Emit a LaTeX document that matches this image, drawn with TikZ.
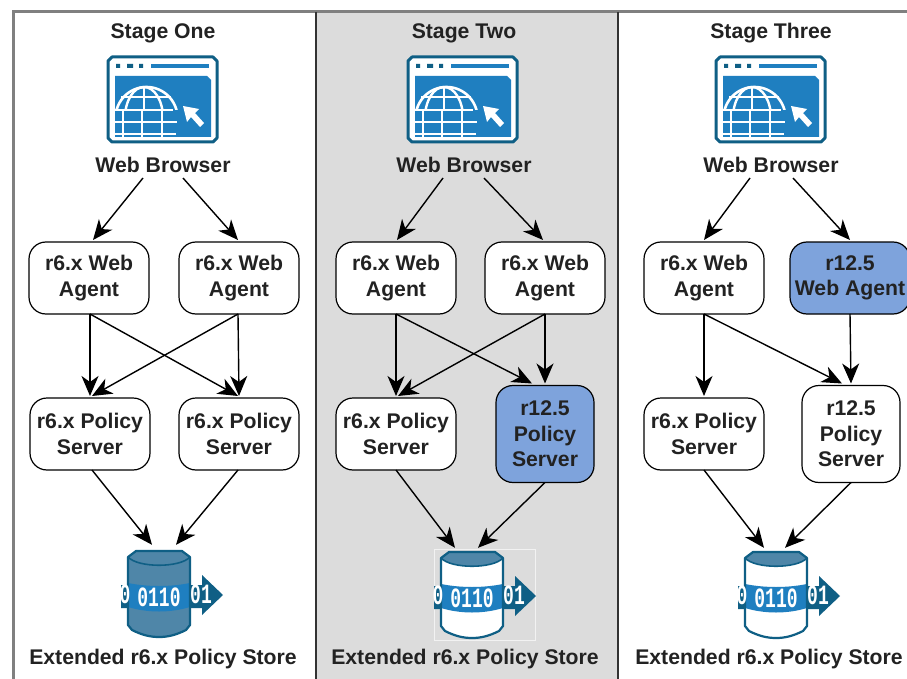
\documentclass[tikz,border=0pt]{standalone}
\usepackage{fontspec}
\setmainfont{Liberation Sans}
\newfontfamily\digitfont{Liberation Mono}
\usetikzlibrary{arrows.meta,calc}
\definecolor{teal}{HTML}{0F5F85}
\definecolor{iconblue}{HTML}{1F7FC0}
\definecolor{storefill}{HTML}{4F86A8}
\definecolor{nodeblue}{HTML}{7EA3DC}
\definecolor{panelgrey}{HTML}{DCDCDC}
\definecolor{inktext}{HTML}{222222}
\tikzset{
  x=1pt,y=-1pt,
  lbl/.style={font=\fontsize{21.2}{25}\selectfont\bfseries,text=inktext,inner sep=0pt,outer sep=0pt,text height=15pt,text depth=5pt},
  boxtxt/.style={draw=black,line width=1.2pt,fill=white,rounded corners=17pt,align=center,inner sep=0pt,outer sep=0pt,
     font=\fontsize{21.2}{25.5}\selectfont\bfseries,text=inktext},
  wide/.style={boxtxt,minimum width=120pt,minimum height=72pt},
  tall/.style={boxtxt,minimum width=98pt,minimum height=97pt},
  blue/.style={fill=nodeblue},
  arr/.style={draw=black,line width=1.4pt,-{Stealth[length=20pt,width=17pt,inset=6pt]}},
  digits/.style={text=white,inner sep=0pt,font=\digitfont\fontsize{18}{18}\selectfont\bfseries,yscale=1.55,transform shape},
}
% browser icon: top-left corner of rim
\newcommand{\browsericon}[3]{%
 \begin{scope}[shift={(#1,#2)}]
  \node[inner sep=0pt,minimum size=0pt] (#3) at (55,43) {};
  \fill[white] (5,1)--(106,1)--(110,5)--(110,82)--(106,86)--(5,86)--(1,82)--(1,5)--cycle;
  \draw[teal,line width=3pt,line join=round] (5,1)--(106,1)--(110,5)--(110,82)--(106,86)--(5,86)--(1,82)--(1,5)--cycle;
  \fill[teal] (9,8) rectangle (13,12) (20,8) rectangle (26,12) (32,8) rectangle (36,12);
  \fill[iconblue] (44,8) rectangle (102,12);
  \fill[iconblue] (8,20)--(100,20)--(104,24)--(104,81)--(8,81)--cycle;
  \begin{scope}
   \clip (8,20)--(100,20)--(104,24)--(104,81)--(8,81)--cycle;
   \draw[white,line width=2.6pt] (39.5,62) circle[radius=31];
   \draw[white,line width=2.4pt] (37,62) ellipse[x radius=19,y radius=31];
   \draw[white,line width=2.4pt] (14,41)--(64,41);
   \draw[white,line width=2.4pt] (37,31)--(37,54);
   \fill[iconblue] (8,54) rectangle (72,82);
   \draw[white,line width=2.6pt] (8,54)--(66,54) (8,66)--(70,66) (8,78)--(69,78)
      (16,54)--(16,81) (35,54)--(35,81) (55,54)--(55,81);
  \end{scope}
  \fill[white] (76,50)--(80,66)--(84,61)--(93,71)--(97,67)--(88,57)--(92,53)--cycle;
 \end{scope}}
% store icon: left of cylinder, top of cylinder
\newcommand{\storeicon}[5]{%
 \begin{scope}[shift={(#1,#2)}]
  \node[inner sep=0pt,minimum size=0pt] (#4) at (31,0) {};
  \fill[teal] (-7,34)--(74,34)--(74,24)--(95,44)--(74,64)--(74,57)--(-7,57)--cycle;
  \fill[#3] (8,0)--(54,0)--(62,6)--(62,74)--(58,79) .. controls (48,84) and (40,86) .. (31,86) .. controls (22,86) and (14,84) .. (4,79)--(0,74)--(0,6)--cycle;
  \fill[iconblue] (0,32) .. controls (20,36) and (42,36) .. (62,32) -- (62,56) .. controls (42,62) and (20,62) .. (0,56) -- cycle;
  \fill[storefill] (0,6) .. controls (10,17) and (52,17) .. (62,6) -- (54,0) -- (8,0) -- cycle;
  \draw[teal,line width=2.2pt,line join=round] (8,0)--(54,0)--(62,6)--(62,74)--(58,79) .. controls (48,84) and (40,86) .. (31,86) .. controls (22,86) and (14,84) .. (4,79)--(0,74)--(0,6)--cycle;
  \draw[teal,line width=1.6pt] (0,6) .. controls (10,17) and (52,17) .. (62,6);
  \node[digits] (#4d) at (31,46) {0110};
  \node[digits] (#4r) at (73,43) {01};
  \node[digits] (#4l) at (-3,43) {0};
 \end{scope}}
\begin{document}
\begin{tikzpicture}
\useasboundingbox (0,0) rectangle (907,679);
\fill[white] (0,0) rectangle (907,679);
\fill[panelgrey] (317,12) rectangle (618,679);
\draw[gray,line width=3pt] (13,679)--(13,12)--(907,12);
\draw[black!80,line width=2.6pt] (316,12)--(316,679) (618,12)--(618,679);

% stage titles
\node[lbl] (s1) at (163,34) {Stage One};
\node[lbl] (s2) at (464,34) {Stage Two};
\node[lbl] (s3) at (771,34) {Stage Three};

% icons
\browsericon{107}{56}{b1}
\browsericon{407}{56}{b2}
\browsericon{715}{56}{b3}
\node[lbl] (w1) at (163,168) {Web Browser};
\node[lbl] (w2) at (464,168) {Web Browser};
\node[lbl] (w3) at (771,168) {Web Browser};

% stage one boxes
\node[wide] (a11) at (89,278) {r6.x Web\\Agent};
\node[wide] (a12) at (239,278) {r6.x Web\\Agent};
\node[wide] (p11) at (90,434) {r6.x Policy\\Server};
\node[wide] (p12) at (239,434) {r6.x Policy\\Server};
% stage two boxes
\node[wide] (a21) at (396,278) {r6.x Web\\Agent};
\node[wide] (a22) at (545,278) {r6.x Web\\Agent};
\node[wide] (p21) at (396,434) {r6.x Policy\\Server};
\node[tall,blue] (p22) at (545,434) {r12.5\\Policy\\Server};
% stage three boxes
\node[wide] (a31) at (704,278) {r6.x Web\\Agent};
\node[wide,blue] (a32) at (850,278) {r12.5\\Web Agent};
\node[wide] (p31) at (704,434) {r6.x Policy\\Server};
\node[tall] (p32) at (851,434) {r12.5\\Policy\\Server};

% stores
\draw[white!90!gray,line width=.8pt] (434,549) rectangle (535,640);
\storeicon{128}{551}{storefill}{st1}{}
\storeicon{441}{552}{white}{st2}{}
\storeicon{745}{552}{white}{st3}{}
\node[lbl] (e1) at (163,659) {Extended r6.x Policy Store};
\node[lbl] (e2) at (465,659) {Extended r6.x Policy Store};
\node[lbl] (e3) at (769,659) {Extended r6.x Policy Store};

% connectors stage one
\draw[arr] ([xshift=-20pt]w1.south) -- ([xshift=4pt,yshift=2pt]a11.north);
\draw[arr] ([xshift=20pt]w1.south) -- ([xshift=-1pt,yshift=2pt]a12.north);
\draw[arr] ([xshift=1pt]a11.south) -- ([yshift=2pt]p11.north);
\draw[arr] ([xshift=1pt]a11.south) -- ([xshift=-1pt,yshift=2pt]p12.north);
\draw[arr] ([xshift=-1pt]a12.south) -- ([yshift=2pt]p12.north);
\draw[arr] ([xshift=-1pt]a12.south) -- ([xshift=2pt,yshift=2pt]p11.north);
\draw[arr] ([xshift=2pt]p11.south) -- ([xshift=-7pt,yshift=6pt]st1.north);
\draw[arr] ([xshift=-1pt]p12.south) -- ([xshift=17pt,yshift=6pt]st1.north);
% stage two
\draw[arr] ([xshift=-21pt]w2.south) -- ([xshift=1pt,yshift=2pt]a21.north);
\draw[arr] ([xshift=20pt]w2.south) -- ([xshift=-2pt,yshift=2pt]a22.north);
\draw[arr] (a21.south) -- ([yshift=2pt]p21.north);
\draw[arr] (a21.south) -- ([xshift=-13pt,yshift=2pt]p22.north);
\draw[arr] (a22.south) -- ([yshift=2pt]p22.north);
\draw[arr] (a22.south) -- ([xshift=2pt,yshift=2pt]p21.north);
\draw[arr] (p21.south) -- ([xshift=-17pt,yshift=4pt]st2.north);
\draw[arr] (p22.south) -- ([xshift=6pt,yshift=4pt]st2.north);
% stage three
\draw[arr] ([xshift=-21pt]w3.south) -- ([yshift=2pt]a31.north);
\draw[arr] ([xshift=22pt]w3.south) -- ([yshift=2pt]a32.north);
\draw[arr] (a31.south) -- ([yshift=2pt]p31.north);
\draw[arr] (a31.south) -- ([xshift=-9pt,yshift=2pt]p32.north);
\draw[arr] (a32.south) -- ([yshift=2pt]p32.north);
\draw[arr] (p31.south) -- ([xshift=-12pt,yshift=4pt]st3.north);
\draw[arr] (p32.south) -- ([xshift=9pt,yshift=4pt]st3.north);
\end{tikzpicture}
\end{document}
